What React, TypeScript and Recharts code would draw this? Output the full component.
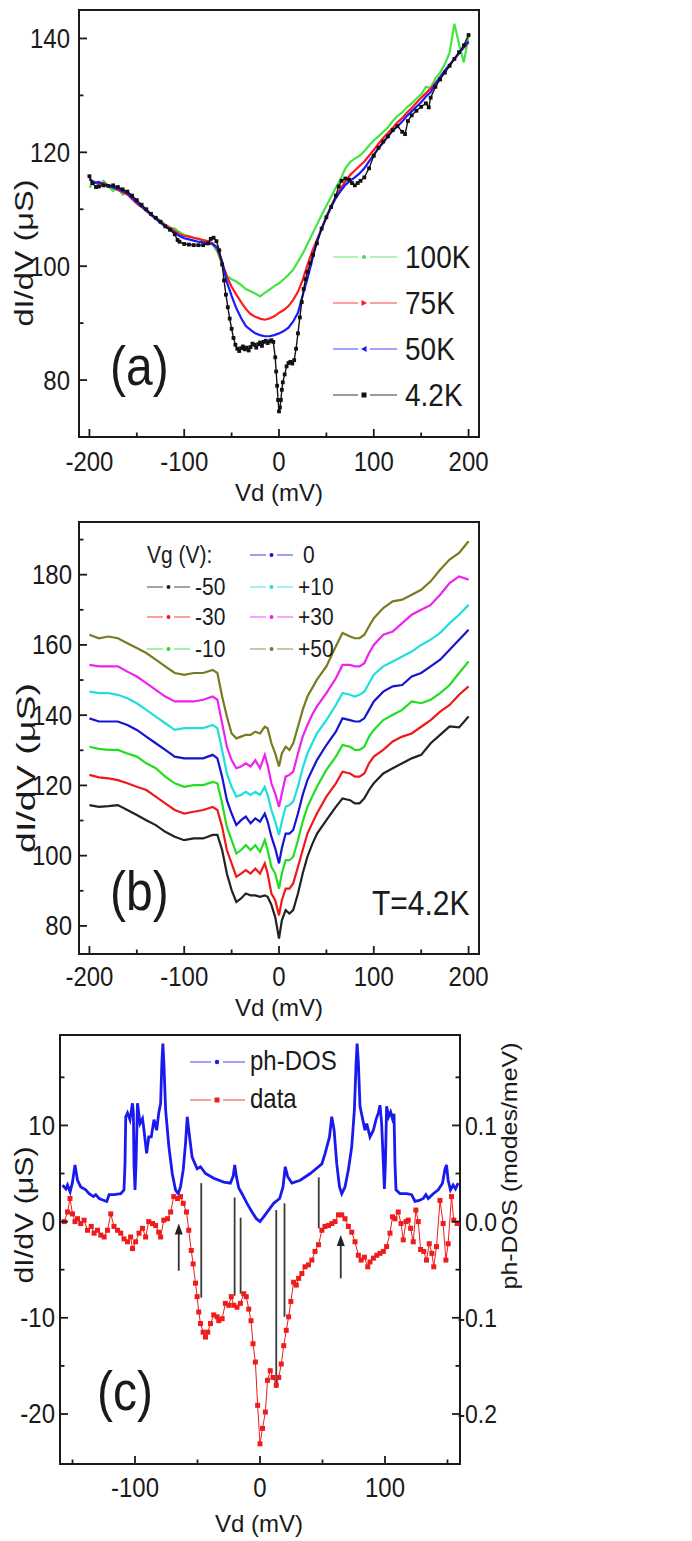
import React from 'react';
import { LineChart, Line, XAxis, YAxis, ReferenceArea, ReferenceLine, Legend } from 'recharts';

const FONT = "Arial, 'Liberation Sans', Helvetica, sans-serif";
const INK = '#1a1a1a';
const SY = 1.15; // vertical stretch of the reference lettering

// ---------------- Panel (a) : temperature dependence ----------------
const vdA = [-200,-195,-190,-185,-180,-175,-170,-165,-160,-155,-150,-145,-140,-135,-130,-125,-120,-115,-110,-105,-100,-95,-90,-85,-80,-75,-70,-65,-60,-55,-50,-45,-40,-35,-30,-25,-20,-15,-10,-5,0,5,10,15,20,25,30,35,40,45,50,55,60,65,70,75,80,85,90,95,100,105,110,115,120,125,130,135,140,145,150,155,160,165,170,175,180,185,190,195,200];
const t100K = [113.8,114.9,114.2,115.0,114.0,113.2,113.9,112.6,113.0,112.0,
  111.2,110.6,110.0,109.0,108.6,108.0,107.3,106.8,106.6,106.0,
  105.5,105.3,105.0,104.8,104.3,104.2,103.8,102.5,100.3,98.3,
  97.7,97.3,96.7,96.0,95.6,95.2,94.7,95.3,95.9,96.5,
  97.0,97.7,98.5,99.4,100.8,102.2,103.9,105.6,107.3,109.0,
  110.6,112.2,113.8,115.3,117.2,118.3,118.9,119.4,120.2,121.2,
  122.1,122.8,123.6,124.4,125.5,126.4,127.0,127.9,128.6,129.4,
  130.2,131.5,131.3,133.0,134.0,135.5,137.5,142.6,139.0,135.8,
  140.5];
const t75K = [115.2,114.8,114.5,114.6,114.2,113.8,113.4,113.0,112.6,111.8,
  111.0,110.4,109.7,109.0,108.4,107.8,107.2,106.7,106.2,105.6,
  105.3,105.2,105.0,104.8,104.6,104.4,104.0,103.0,100.6,98.2,
  96.4,95.0,93.7,92.5,91.6,91.1,90.8,90.6,90.8,91.2,
  91.8,92.3,93.0,94.1,95.5,97.6,100.2,102.6,104.6,106.6,
  108.7,110.6,112.2,113.6,114.9,116.0,116.8,117.6,118.4,119.4,
  120.4,121.5,122.5,123.4,124.3,125.3,126.0,127.0,127.8,128.7,
  129.6,130.4,131.2,132.2,133.2,134.2,135.3,136.4,137.5,138.4,
  139.3];
const t50K = [115.4,114.6,114.8,114.3,114.2,113.8,113.6,113.2,112.8,112.0,
  111.3,110.5,109.8,109.0,108.3,107.6,107.0,106.4,105.9,105.3,
  104.9,104.7,104.5,104.3,104.2,104.0,103.9,103.3,100.8,97.2,
  94.8,92.6,90.9,89.5,88.8,88.2,87.9,87.7,87.7,87.9,
  88.2,88.6,89.2,90.3,91.8,94.9,97.8,101.1,104.4,106.6,
  108.6,110.4,112.0,113.2,114.3,115.0,115.6,116.3,117.2,118.4,
  119.6,120.7,121.7,122.8,123.8,124.6,125.4,126.4,127.2,128.0,
  128.8,129.8,130.6,132.0,133.2,134.4,135.4,136.4,137.4,138.5,
  139.5];
const vdA42 = [-200,-197,-193,-190,-185,-180,-175,-170,-165,-160,
  -155,-150,-145,-140,-135,-130,-125,-120,-115,-110,
  -107,-105,-100,-95,-90,-85,-80,-75,-72,-69,
  -66,-63,-60,-58,-56,-54,-52,-50,-48,-46,
  -44,-42,-40,-38,-36,-34,-32,-30,-28,-26,
  -24,-22,-20,-18,-16,-14,-12,-10,-8,-6,
  -4,-3,-2,-1,0,1,2,3,4,6,
  8,10,12,14,16,18,20,22,24,26,
  28,30,33,36,40,45,50,55,60,63,
  66,70,74,77,80,83,86,90,95,100,
  105,110,115,120,125,130,133,136,140,145,
  150,155,158,160,165,170,175,180,185,190,
  195,200];
const t4K = [115.8,114.6,113.9,114.0,114.2,114.1,114.2,113.9,113.5,113.1,
  112.4,111.6,110.8,110.0,109.2,108.5,107.8,107.0,106.4,105.6,
  104.6,104.3,103.9,103.8,103.7,103.7,103.7,104.0,104.8,105.0,
  104.4,102.8,100.3,97.5,95.0,92.8,90.8,89.0,87.4,86.2,
  85.5,85.1,85.6,85.9,85.4,85.7,85.2,85.8,86.4,86.2,
  85.7,86.3,86.6,86.0,86.7,86.9,86.5,86.8,87.0,86.7,
  84.0,81.5,79.0,76.5,74.5,75.2,76.5,78.3,79.6,81.0,
  82.4,83.0,83.2,82.9,83.5,85.5,88.2,91.0,93.7,96.0,
  97.7,99.0,100.5,102.0,104.0,106.6,108.6,110.4,112.4,114.0,
  115.0,115.4,115.2,114.6,114.2,114.6,115.0,115.6,117.2,119.4,
  120.8,121.9,122.8,123.9,124.6,123.6,123.2,125.5,126.5,127.3,
  128.0,128.6,127.9,129.6,131.5,132.8,134.0,135.2,136.4,137.6,
  138.8,140.6];
const tempLabels = ['100K', '75K', '50K', '4.2K'];
const tempColors = ['#44e444', '#ff1a1a', '#1a1aff', '#111111'];

// ---------------- Panel (b) : gate dependence at 4.2 K ----------------
const vdB = [-200,-190,-180,-170,-160,-150,-140,-130,-120,-110,-100,-90,-80,-70,
  -65,-60,-55,-50,-45,-40,-35,-30,-25,-20,-15,-12,-8,-4,
  0,3,7,11,15,20,25,30,35,40,
  50,60,67,75,80,85,90,95,100,
  110,120,130,140,150,160,170,180,190,200];
const vgM50 = [114.4,113.9,114.1,114.4,113.0,111.6,110.1,108.7,106.8,105.4,104.4,104.9,104.9,105.9,
  105.9,101.6,94.9,90.2,86.8,87.8,89.2,88.7,88.7,88.3,88.7,88.3,86.0,82.5,
  76.4,81.6,84.5,83.5,84.5,89.2,94.9,99.7,103.2,106.2,
  110.1,113.9,116.3,115.8,114.9,114.9,116.3,118.7,120.6,
  123.4,124.9,126.3,127.7,128.7,132.0,134.4,136.8,136.5,139.6];
const vgM30 = [123.0,122.3,122.0,121.5,120.6,119.6,118.7,116.8,114.9,113.0,112.0,112.5,113.0,113.9,
  113.0,108.2,101.6,97.8,94.0,94.9,95.9,94.9,96.3,94.9,97.8,94.9,89.2,87.3,
  83.0,87.3,90.6,90.6,92.1,96.8,101.6,106.3,109.2,112.0,
  116.8,120.6,123.9,123.4,122.5,122.5,123.4,126.3,128.2,
  130.1,132.5,133.9,134.8,136.7,138.6,141.0,142.9,145.8,148.2];
const vgM10 = [131.0,130.4,130.1,130.1,129.1,128.2,126.3,124.9,122.5,120.6,119.6,120.1,120.1,121.0,
  120.6,114.9,108.2,104.4,100.6,101.6,103.0,101.6,103.0,101.1,104.4,101.6,96.8,94.9,
  90.6,94.9,98.7,98.7,99.7,104.4,109.7,113.9,116.8,119.6,
  124.4,128.2,131.5,131.0,130.1,130.1,131.0,133.9,135.8,
  138.6,140.1,141.5,143.9,143.4,144.4,146.3,148.6,152.0,155.3];
const vg0 = [139.1,138.2,138.2,138.2,137.2,135.8,133.9,132.0,130.1,128.2,127.7,127.7,127.7,128.7,
  127.7,122.5,115.8,112.0,108.7,110.1,111.1,109.2,110.6,109.7,112.0,109.7,105.4,102.1,
  97.8,102.1,106.3,106.3,107.3,112.0,117.3,121.5,124.4,127.2,
  131.5,135.3,139.1,138.6,138.2,138.2,139.1,141.5,143.9,
  146.7,148.2,148.6,151.0,152.0,153.9,155.8,158.6,161.5,164.3];
const vgP10 = [146.7,146.3,146.3,145.8,144.8,143.4,141.5,139.6,137.7,135.8,136.3,136.3,136.3,137.2,
  136.3,130.1,123.4,119.6,116.8,117.3,118.2,117.3,118.2,117.3,119.6,117.3,113.0,109.7,
  105.9,109.7,113.9,114.4,115.4,119.6,124.9,129.1,132.0,134.8,
  138.6,142.9,146.3,145.8,145.3,145.8,146.7,149.1,151.5,
  153.9,155.3,156.7,158.1,160.0,161.5,163.4,166.2,168.6,171.4];
const vgP30 = [154.3,153.9,153.9,153.9,152.4,151.0,149.1,147.2,145.3,143.9,143.9,143.9,144.4,145.3,
  144.4,137.7,131.0,127.2,124.9,125.4,126.3,125.4,127.2,124.9,128.7,125.8,120.6,117.7,
  113.9,117.7,122.5,123.0,123.9,129.1,133.9,137.2,140.1,142.5,
  146.3,150.5,154.3,154.3,153.9,153.9,154.8,157.7,160.0,
  162.9,163.8,166.2,168.6,170.0,171.4,174.3,177.6,179.5,178.6];
const vgP50 = [162.9,161.9,162.4,161.9,160.5,159.1,157.7,155.8,153.9,152.0,151.5,152.0,152.0,152.9,
  152.0,145.3,139.6,134.8,133.4,133.9,134.4,134.4,135.3,134.8,136.7,136.3,132.0,129.1,
  125.4,129.1,131.0,130.1,132.0,136.7,141.5,145.3,147.7,150.1,
  153.9,159.6,163.4,162.4,161.9,161.9,162.9,165.3,167.6,
  170.5,172.4,172.9,174.3,175.7,178.1,181.4,184.3,186.2,189.5];
const vgLabels = ['-50', '-30', '-10', '0', '+10', '+30', '+50'];
const vgColors = ['#222222', '#f01818', '#22dd22', '#1515d0', '#20dede', '#ee22ee', '#7a7a1e'];

// ---------------- Panel (c) : phonon DOS vs data ----------------
const vdDos = [-158,-155.3,-154,-151.9,-150,-148,-146,-143.4,-139.4,-136.7,
  -133.2,-131.4,-128.7,-124.7,-122.6,-120.7,-116.8,-111.4,-108.8,-108,
  -107.4,-106,-104,-102,-101.3,-100.8,-100,-99.2,-98,-96,
  -94,-92.8,-90.7,-89,-87,-84.8,-82.7,-81,-79.5,-78.5,
  -77.7,-76.9,-75.5,-72.9,-70.2,-67.6,-65.4,-63.6,-61.4,-59.6,
  -58.2,-57,-54.3,-50.3,-47.6,-43.6,-37,-29,-23.7,-21.5,
  -20.2,-18.9,-17,-14.4,-10.4,-6.4,-2.9,0,2.9,6.9,
  10.9,15.7,18.4,20.2,22.1,25.5,32.2,40.2,46.8,49.5,
  52.1,55.6,57.4,59.3,61.4,63.6,65.4,68,70.7,73.4,
  75.5,76.9,77.7,78.7,80,82.2,84,85.4,88,90.7,
  92.8,94.7,96,97.3,98.7,99.5,100.3,101.3,102.9,104.5,
  106,107.2,108,108.8,112,117.3,121.3,124,127.4,130.6,
  132.7,134.6,138.6,142.6,146,147.9,149.2,150.5,152.4,154.5,
  156.4,158.5];
const phDos = [0.038,0.034,0.038,0.031,0.041,0.059,0.043,0.036,0.033,0.029,
  0.026,0.028,0.024,0.022,0.021,0.028,0.028,0.029,0.033,0.060,
  0.109,0.113,0.106,0.123,0.113,0.060,0.033,0.060,0.123,0.102,
  0.107,0.095,0.071,0.088,0.088,0.106,0.095,0.113,0.123,0.165,
  0.185,0.165,0.116,0.078,0.050,0.033,0.029,0.036,0.054,0.081,
  0.109,0.095,0.067,0.055,0.057,0.050,0.045,0.041,0.040,0.047,
  0.059,0.047,0.035,0.029,0.019,0.010,0.003,0.000,0.005,0.012,
  0.019,0.024,0.036,0.057,0.047,0.040,0.043,0.050,0.057,0.060,
  0.071,0.088,0.109,0.095,0.060,0.036,0.029,0.036,0.054,0.078,
  0.116,0.165,0.185,0.165,0.120,0.106,0.095,0.102,0.088,0.095,
  0.106,0.113,0.121,0.102,0.060,0.034,0.060,0.120,0.109,0.114,
  0.107,0.112,0.060,0.033,0.029,0.029,0.028,0.021,0.022,0.024,
  0.028,0.024,0.029,0.033,0.040,0.054,0.059,0.043,0.033,0.038,
  0.034,0.040];
const vdData = [-156.6,-154,-152,-150,-148,-146,-143.4,-140.7,-138,-135,
  -132.7,-130,-127.4,-124.7,-122,-119.4,-116.8,-114,-111.4,-108.8,
  -106,-103.5,-102,-99.5,-96.8,-94,-91.5,-89,-86,-83.5,
  -81,-79.5,-77,-74,-71.5,-69,-66,-63.6,-61.4,-58.8,
  -57,-55,-53.5,-51.6,-50.3,-49,-47.6,-45.5,-43.6,-41.8,
  -39.6,-37,-34.3,-33,-30.3,-27.7,-25,-23,-21,-18.4,
  -15.7,-13,-11,-9,-7.2,-5.6,-3.7,-1.9,0,2,
  4.3,6,8.2,10.4,13,15,17,19,21,22.9,
  24.7,26.9,29,30.9,33.5,36,38.8,41.5,44,46.8,
  49.5,52,54.8,57.5,60,62.8,65.4,68,70.7,73.4,
  76,78.7,80.9,83.5,86.2,88,90.7,93.4,96,98.7,
  101.3,104,106,108,110.6,112.8,114.6,116.8,118.6,120.5,
  122.6,124.7,126.6,128.5,131,133.2,135.4,137.5,139,141.2,
  144,146.5,148.7,150.5,153.2,155,157.7];
const dataC = [0.0,1.0,2.4,0.8,0.0,0.3,-0.2,0.15,-0.9,-0.5,
  -1.2,-0.9,-1.4,-1.6,-0.9,0.8,-0.5,-0.9,-1.2,-1.8,
  -2.1,-1.6,-2.8,-2.1,-1.2,-0.7,-1.6,0.0,-0.2,-0.4,
  -1.1,-1.6,0.15,0.3,1.0,2.6,2.4,2.6,1.9,1.0,
  -0.9,-3.0,-4.4,-6.4,-7.8,-9.4,-10.6,-11.5,-12.0,-11.5,
  -10.6,-9.7,-9.9,-10.3,-10.1,-8.5,-8.7,-7.8,-8.7,-8.9,
  -8.5,-7.5,-7.8,-9.1,-10.3,-12.7,-14.6,-19.1,-23.1,-21.5,
  -19.8,-16.5,-15.5,-16.2,-17.0,-16.2,-14.8,-12.9,-11.3,-9.9,
  -8.3,-6.3,-6.6,-5.9,-5.4,-4.7,-4.5,-4.0,-3.1,-2.4,
  -0.9,-0.5,-0.4,-0.2,0.0,0.7,0.7,0.3,-0.5,-1.1,
  -2.1,-3.5,-4.0,-3.7,-4.7,-4.2,-3.8,-3.5,-3.3,-3.1,
  -2.6,-1.2,0.5,0.3,1.0,-0.2,-1.9,0.0,0.15,-0.7,
  -2.1,1.2,0.0,-2.9,-3.1,-4.0,-2.3,-3.3,-4.7,-2.6,
  2.2,-0.2,-4.0,-2.3,2.6,0.15,-0.2];
const markX = [-47, -20.3, -15.5, 13, 19.6, 47];
const markTop = [4.0, 2.5, 0.4, 1.2, 1.9, 4.6];
const markBottom = [-7.9, -7.7, -7.5, -17.3, -9.9, -0.7];
const arrowX = [-65, 64.6];
const arrowTop = [-0.2, -1.4];
const arrowBottom = [-5.1, -5.9];
const cLabels = ['ph-DOS', 'data'];
const cColors = ['#1a1aee', '#ee1c1c'];

// ---------------- helpers ----------------
const pts = (xs: number[], ys: number[]) => xs.map((x, i) => ({ x, y: ys[i] }));

// text stretched vertically like the reference lettering (baseline at x,y)
const SText = (p: { x: number; y: number; fs: number; anchor?: string; children: any }) => (
  <text transform={`translate(${p.x},${p.y}) scale(1,${SY})`} textAnchor={(p.anchor as any) ?? 'start'}
    fontSize={p.fs} fontFamily={FONT} fill={INK}>{p.children}</text>
);

type TickOpts = { side: 'left' | 'right' | 'bottom'; axis: number; label: number; majors: number[]; fmt?: (v: number) => string; fs?: number; anchor?: 'start' | 'middle' | 'end'; dy?: number };
const makeTick = (o: TickOpts) => (props: any) => {
  const v = props.payload ? props.payload.value : 0;
  const major = o.majors.indexOf(v) >= 0;
  const len = major ? 8 : 4.5;
  const text = o.fmt ? o.fmt(v) : String(v);
  const fs = o.fs ?? 24;
  if (o.side === 'bottom') {
    const x = props.x;
    return (
      <g>
        <line x1={x} x2={x} y1={o.axis} y2={o.axis - len} stroke={INK} strokeWidth={1.8} />
        {major ? <SText x={x} y={o.label} fs={fs} anchor="middle">{text}</SText> : null}
      </g>
    );
  }
  const y = props.y;
  const dir = o.side === 'left' ? 1 : -1;
  return (
    <g>
      <line x1={o.axis} x2={o.axis + dir * len} y1={y} y2={y} stroke={INK} strokeWidth={1.8} />
      {major ? <SText x={o.label} y={y + (o.dy ?? 9.5)} fs={fs} anchor={o.anchor ?? 'end'}>{text}</SText> : null}
    </g>
  );
};

const squareDot = (size: number, color: string) => (p: any) => (
  <rect key={`sq-${p.index}`} x={p.cx - size / 2} y={p.cy - size / 2} width={size} height={size} fill={color} />
);

const marker = (kind: string, x: number, y: number, color: string) => {
  if (kind === 'square') return <rect x={x - 2.5} y={y - 2.5} width={5} height={5} fill={color} />;
  if (kind === 'tright') return <polygon points={`${x - 2.5},${y - 3} ${x + 3},${y} ${x - 2.5},${y + 3}`} fill={color} />;
  if (kind === 'tleft') return <polygon points={`${x + 2.5},${y - 3} ${x - 3},${y} ${x + 2.5},${y + 3}`} fill={color} />;
  return <circle cx={x} cy={y} r={2} fill={color} />;
};

const arrowShape = (p: any) => {
  const x = p.x1;
  const top = Math.min(p.y1, p.y2);
  const bot = Math.max(p.y1, p.y2);
  return (
    <g>
      <line x1={x} x2={x} y1={bot} y2={top + 8} stroke="#333" strokeWidth={1.8} />
      <polygon points={`${x},${top} ${x - 4},${top + 11} ${x + 4},${top + 11}`} fill="#222" />
    </g>
  );
};

const xTicksAB = [-200, -150, -100, -50, 0, 50, 100, 150, 200];
const xMajAB = [-200, -100, 0, 100, 200];

export default function App() {
  const markerKinds = ['dot', 'tright', 'tleft', 'square'];
  return (
    <div style={{ position: 'absolute', left: 0, top: 0, width: 692, height: 1541, background: '#fff', overflow: 'hidden' }}>
      {/* ---------- Panel (a) ---------- */}
      <div style={{ position: 'absolute', left: 0, top: 0 }}>
        <LineChart width={692} height={520} margin={{ top: 10, right: 213, bottom: 0, left: 0 }}>
          <XAxis type="number" dataKey="x" domain={[-211, 211]} allowDataOverflow ticks={xTicksAB} interval={0}
            axisLine={false} tickLine={false} height={83}
            tick={makeTick({ side: 'bottom', axis: 437, label: 471, majors: xMajAB })} />
          <YAxis type="number" domain={[70, 145]} allowDataOverflow ticks={[80, 90, 100, 110, 120, 130, 140]} interval={0}
            axisLine={false} tickLine={false} width={79}
            tick={makeTick({ side: 'left', axis: 79, label: 70, majors: [80, 100, 120, 140] })} />
          <Line data={pts(vdA, t100K)} dataKey="y" name="100K" stroke={tempColors[0]} strokeWidth={2.2} dot={false} activeDot={false} isAnimationActive={false} />
          <Line data={pts(vdA, t75K)} dataKey="y" name="75K" stroke={tempColors[1]} strokeWidth={2.2} dot={false} activeDot={false} isAnimationActive={false} />
          <Line data={pts(vdA, t50K)} dataKey="y" name="50K" stroke={tempColors[2]} strokeWidth={2.2} dot={false} activeDot={false} isAnimationActive={false} />
          <Line data={pts(vdA42, t4K)} dataKey="y" name="4.2K" stroke={tempColors[3]} strokeWidth={1.4} dot={squareDot(3.8, tempColors[3])} activeDot={false} isAnimationActive={false} />
          <ReferenceArea x1={-211} x2={211} y1={70} y2={145} fill="none" fillOpacity={0} stroke={INK} strokeWidth={2} ifOverflow="visible" />
          <Legend verticalAlign="middle" layout="horizontal"
            wrapperStyle={{ position: 'absolute', left: 325, top: 230, width: 170, height: 195, margin: 0 }}
            content={() => (
              <svg width={170} height={195} style={{ overflow: 'visible' }}>
                {tempLabels.map((lab, i) => {
                  const y = 27 + i * 46;
                  return (
                    <g key={lab}>
                      <line x1={8} x2={33} y1={y} y2={y} stroke={tempColors[i]} strokeOpacity={0.55} strokeWidth={1.5} />
                      <line x1={45} x2={72} y1={y} y2={y} stroke={tempColors[i]} strokeOpacity={0.55} strokeWidth={1.5} />
                      {marker(markerKinds[i], 39, y, tempColors[i])}
                      <SText x={80} y={y + 11} fs={28}>{lab}</SText>
                    </g>
                  );
                })}
              </svg>
            )} />
        </LineChart>
      </div>

      {/* ---------- Panel (b) ---------- */}
      <div style={{ position: 'absolute', left: 0, top: 515 }}>
        <LineChart width={692} height={515} margin={{ top: 7, right: 213, bottom: 0, left: 0 }}>
          <XAxis type="number" dataKey="x" domain={[-211, 211]} allowDataOverflow ticks={xTicksAB} interval={0}
            axisLine={false} tickLine={false} height={76}
            tick={makeTick({ side: 'bottom', axis: 439, label: 471, majors: xMajAB })} />
          <YAxis type="number" domain={[72, 195]} allowDataOverflow ticks={[80, 90, 100, 110, 120, 130, 140, 150, 160, 170, 180, 190]} interval={0}
            axisLine={false} tickLine={false} width={79}
            tick={makeTick({ side: 'left', axis: 79, label: 72, majors: [80, 100, 120, 140, 160, 180] })} />
          {[vgM50, vgM30, vgM10, vg0, vgP10, vgP30, vgP50].map((arr, i) => (
            <Line key={vgLabels[i]} data={pts(vdB, arr)} dataKey="y" name={vgLabels[i]} stroke={vgColors[i]} strokeWidth={2.2}
              dot={false} activeDot={false} isAnimationActive={false} />
          ))}
          <ReferenceArea x1={-211} x2={211} y1={72} y2={195} fill="none" fillOpacity={0} stroke={INK} strokeWidth={2} ifOverflow="visible" />
          <Legend verticalAlign="middle" layout="horizontal"
            wrapperStyle={{ position: 'absolute', left: 140, top: 10, width: 210, height: 145, margin: 0 }}
            content={() => (
              <svg width={210} height={145} style={{ overflow: 'visible' }}>
                <SText x={7} y={38} fs={21}>Vg (V):</SText>
                {vgLabels.map((lab, i) => {
                  const col = i < 3 ? 0 : 1;
                  const row = i < 3 ? i + 1 : i - 3;
                  const y = [30, 62, 92, 124][row];
                  const x0 = col === 0 ? 7 : 110;
                  return (
                    <g key={lab}>
                      <line x1={x0} x2={x0 + 16} y1={y} y2={y} stroke={vgColors[i]} strokeOpacity={0.55} strokeWidth={1.5} />
                      <line x1={x0 + 27} x2={x0 + 43} y1={y} y2={y} stroke={vgColors[i]} strokeOpacity={0.55} strokeWidth={1.5} />
                      <circle cx={x0 + 21.5} cy={y} r={2} fill={vgColors[i]} />
                      <SText x={lab === '0' ? x0 + 53 : x0 + 48} y={y + 8} fs={21}>{lab}</SText>
                    </g>
                  );
                })}
              </svg>
            )} />
        </LineChart>
      </div>

      {/* ---------- Panel (c) ---------- */}
      <div style={{ position: 'absolute', left: 0, top: 1030 }}>
        <LineChart width={692} height={511} margin={{ top: 5, right: 172, bottom: 0, left: 0 }}>
          <XAxis type="number" dataKey="x" domain={[-160, 160]} allowDataOverflow ticks={[-150, -100, -50, 0, 50, 100, 150]} interval={0}
            axisLine={false} tickLine={false} height={77}
            tick={makeTick({ side: 'bottom', axis: 434, label: 467, majors: [-100, 0, 100] })} />
          <YAxis yAxisId="l" type="number" domain={[-25.2, 19.4]} allowDataOverflow ticks={[-20, -15, -10, -5, 0, 5, 10, 15]} interval={0}
            axisLine={false} tickLine={false} width={60}
            tick={makeTick({ side: 'left', axis: 60, label: 55, majors: [-20, -10, 0, 10] })} />
          <YAxis yAxisId="r" orientation="right" type="number" domain={[-0.252, 0.194]} allowDataOverflow
            ticks={[-0.2, -0.15, -0.1, -0.05, 0, 0.05, 0.1, 0.15]} interval={0}
            axisLine={false} tickLine={false} width={60}
            tick={makeTick({ side: 'right', axis: 460, label: 497, majors: [-0.2, -0.1, 0, 0.1], fmt: (v) => v.toFixed(1), fs: 23 })} />
          <Line yAxisId="r" data={pts(vdDos, phDos)} dataKey="y" name="ph-DOS" stroke={cColors[0]} strokeWidth={2.8}
            dot={false} activeDot={false} isAnimationActive={false} />
          <Line yAxisId="l" data={pts(vdData, dataC)} dataKey="y" name="data" stroke={cColors[1]} strokeWidth={1}
            dot={squareDot(5, cColors[1])} activeDot={false} isAnimationActive={false} />
          {markX.map((x, i) => (
            <ReferenceLine key={`m${i}`} yAxisId="l" segment={[{ x, y: markBottom[i] }, { x, y: markTop[i] }]}
              stroke="#3a3a3a" strokeWidth={1.8} />
          ))}
          {arrowX.map((x, i) => (
            <ReferenceLine key={`a${i}`} yAxisId="l" segment={[{ x, y: arrowBottom[i] }, { x, y: arrowTop[i] }]}
              stroke="#333" shape={arrowShape} />
          ))}
          <ReferenceArea yAxisId="l" x1={-160} x2={160} y1={-25.2} y2={19.4} fill="none" fillOpacity={0} stroke={INK} strokeWidth={2} ifOverflow="visible" />
          <Legend verticalAlign="middle" layout="horizontal"
            wrapperStyle={{ position: 'absolute', left: 180, top: 10, width: 190, height: 85, margin: 0 }}
            content={() => (
              <svg width={190} height={85} style={{ overflow: 'visible' }}>
                {cLabels.map((lab, i) => {
                  const y = i === 0 ? 22 : 60;
                  return (
                    <g key={lab}>
                      <line x1={10} x2={31} y1={y} y2={y} stroke={cColors[i]} strokeOpacity={0.55} strokeWidth={1.5} />
                      <line x1={43} x2={65} y1={y} y2={y} stroke={cColors[i]} strokeOpacity={0.55} strokeWidth={1.5} />
                      {i === 0 ? <circle cx={37} cy={y} r={2.2} fill={cColors[i]} /> : <rect x={34.5} y={y - 2.5} width={5} height={5} fill={cColors[i]} />}
                      <SText x={70} y={y + 8} fs={24}>{lab}</SText>
                    </g>
                  );
                })}
              </svg>
            )} />
        </LineChart>
      </div>

      {/* ---------- titles and panel labels ---------- */}
      <svg width={692} height={1541} style={{ position: 'absolute', left: 0, top: 0, pointerEvents: 'none' }}>
        <g fontFamily={FONT} fill={INK}>
          <text transform="translate(33,253) rotate(-90)" textAnchor="middle" fontSize={26} textLength={147} lengthAdjust="spacingAndGlyphs">dI/dV (μS)</text>
          <text x={279} y={501} textAnchor="middle" fontSize={24}>Vd (mV)</text>
          <SText x={110} y={385} fs={48}>(a)</SText>

          <text transform="translate(35,768) rotate(-90)" textAnchor="middle" fontSize={26} textLength={170} lengthAdjust="spacingAndGlyphs">dI/dV (μS)</text>
          <text x={279} y={1016} textAnchor="middle" fontSize={24}>Vd (mV)</text>
          <SText x={110} y={910} fs={48}>(b)</SText>
          <SText x={372} y={915} fs={30}>T=4.2K</SText>

          <text transform="translate(33,1215) rotate(-90)" textAnchor="middle" fontSize={26} textLength={137} lengthAdjust="spacingAndGlyphs">dI/dV (μS)</text>
          <text x={259} y={1532} textAnchor="middle" fontSize={24}>Vd (mV)</text>
          <text transform="translate(517,1166) rotate(-90)" textAnchor="middle" fontSize={22} textLength={247} lengthAdjust="spacingAndGlyphs">ph-DOS (modes/meV)</text>
          <SText x={97} y={1410} fs={48}>(c)</SText>
        </g>
      </svg>
    </div>
  );
}
